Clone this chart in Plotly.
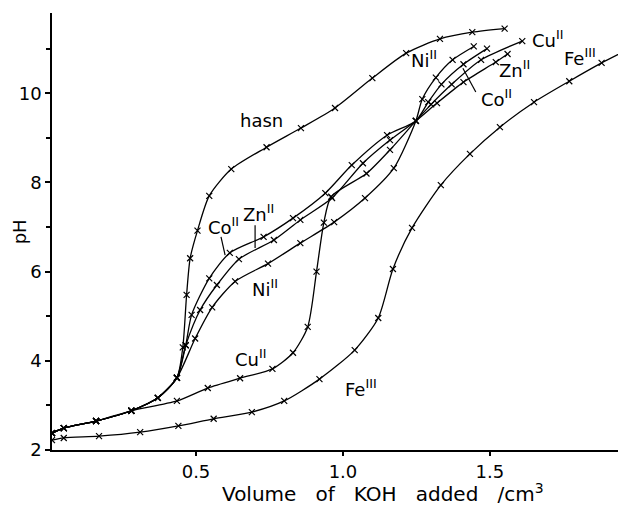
import plotly.graph_objects as go

# Shared initial part of the ligand / metal titrations
start_x = [0.01, 0.05, 0.16, 0.28, 0.37, 0.435]
start_ph = [2.38, 2.49, 2.65, 2.88, 3.17, 3.62]

hasn_x = start_x + [0.455, 0.468, 0.48, 0.505, 0.545, 0.62, 0.74, 0.857, 0.973, 1.10, 1.215, 1.33, 1.44, 1.55]
hasn_ph = start_ph + [4.3, 5.48, 6.3, 6.92, 7.7, 8.3, 8.79, 9.22, 9.67, 10.34, 10.9, 11.22, 11.37, 11.45]

co_x = start_x + [0.465, 0.485, 0.545, 0.615, 0.73, 0.83, 0.94, 1.03, 1.15, 1.248, 1.29, 1.335, 1.41, 1.49]
co_ph = start_ph + [4.35, 5.03, 5.85, 6.42, 6.78, 7.2, 7.76, 8.39, 9.06, 9.38, 9.8, 10.2, 10.65, 11.0]

zn_x = start_x + [0.465, 0.514, 0.571, 0.646, 0.765, 0.855, 0.963, 1.068, 1.16, 1.248, 1.32, 1.41, 1.52, 1.56]
zn_ph = start_ph + [4.35, 5.14, 5.70, 6.28, 6.71, 7.16, 7.65, 8.43, 8.95, 9.38, 9.78, 10.25, 10.7, 10.88]

ni_x = start_x + [0.497, 0.555, 0.633, 0.745, 0.855, 0.97, 1.075, 1.173, 1.248, 1.27, 1.316, 1.373, 1.445]
ni_ph = start_ph + [4.5, 5.2, 5.78, 6.18, 6.64, 7.11, 7.65, 8.32, 9.38, 9.87, 10.35, 10.75, 11.05]

cu_x = [0.01, 0.05, 0.16, 0.28, 0.435, 0.54, 0.65, 0.76, 0.83, 0.88, 0.91, 0.935, 0.96, 1.08, 1.16, 1.248, 1.3, 1.37, 1.47, 1.61]
cu_ph = [2.38, 2.49, 2.65, 2.88, 3.10, 3.39, 3.61, 3.82, 4.18, 4.76, 6.0, 7.1, 7.68, 8.2, 8.73, 9.38, 9.75, 10.2, 10.75, 11.17]

fe_x = [0.01, 0.05, 0.17, 0.31, 0.44, 0.56, 0.69, 0.80, 0.92, 1.04, 1.12, 1.17, 1.235, 1.333, 1.432, 1.534, 1.65, 1.77, 1.88, 1.96]
fe_ph = [2.22, 2.27, 2.31, 2.40, 2.54, 2.70, 2.85, 3.10, 3.59, 4.24, 4.96, 6.06, 6.98, 7.94, 8.64, 9.24, 9.80, 10.27, 10.68, 10.95]

series = [
    ("hasn", hasn_x, hasn_ph),
    ("Co(II)", co_x, co_ph),
    ("Zn(II)", zn_x, zn_ph),
    ("Ni(II)", ni_x, ni_ph),
    ("Cu(II)", cu_x, cu_ph),
    ("Fe(III)", fe_x, fe_ph),
]

x_ticks = [0.5, 1.0, 1.5]
x_ticklabels = ["0.5", "1.0", "1.5"]
y_ticks = [2, 4, 6, 8, 10]

# labels: (text, x, pH)
labels = [
    ("hasn", 0.724, 9.38),
    ("Co<sup>II</sup>", 0.592, 7.02),
    ("Zn<sup>II</sup>", 0.714, 7.31),
    ("Ni<sup>II</sup>", 0.735, 5.63),
    ("Cu<sup>II</sup>", 0.684, 4.06),
    ("Fe<sup>III</sup>", 1.061, 3.39),
    ("Ni<sup>II</sup>", 1.276, 10.77),
    ("Cu<sup>II</sup>", 1.697, 11.22),
    ("Zn<sup>II</sup>", 1.585, 10.54),
    ("Co<sup>II</sup>", 1.524, 9.89),
    ("Fe<sup>III</sup>", 1.806, 10.81),
]
pointers = [
    (0.599, 6.37, 0.585, 6.78),
    (0.701, 6.53, 0.701, 7.04),
    (1.408, 10.56, 1.452, 10.03),
]

fig = go.Figure()
for name, xs, ys in series:
    fig.add_trace(go.Scatter(
        x=xs, y=ys, name=name, mode="lines+markers",
        line=dict(color="black", width=1.3, shape="spline", smoothing=0.7),
        marker=dict(symbol="x-thin", size=6, line=dict(color="black", width=1.2)),
        showlegend=False,
    ))

font_family = "DejaVu Sans, sans-serif"
for text, lx, ly in labels:
    fig.add_annotation(x=lx, y=ly, text=text, showarrow=False,
                       font=dict(family=font_family, size=18, color="black"))
for x0, y0, x1, y1 in pointers:
    fig.add_shape(type="line", x0=x0, y0=y0, x1=x1, y1=y1,
                  line=dict(color="black", width=1.2))

# axis titles
fig.add_annotation(xref="paper", yref="paper", x=0.577, y=-0.098, yanchor="middle",
                   text="Volume   of   KOH   added   /cm<sup>3</sup>", showarrow=False,
                   font=dict(family=font_family, size=20, color="black"))
fig.add_annotation(xref="paper", yref="paper", x=-0.056, y=0.5, xanchor="center",
                   text="pH", textangle=-90, showarrow=False,
                   font=dict(family=font_family, size=18, color="black"))

# page body has an 8px margin: size the figure so the plot area lands where the reference has it
fig.update_layout(
    width=618, height=501,
    margin=dict(l=44, r=0, t=5, b=59),
    paper_bgcolor="white", plot_bgcolor="white",
    font=dict(family=font_family, size=18, color="black"),
    xaxis=dict(
        range=[0.01, 1.963], showgrid=False, zeroline=False, automargin=False,
        showline=True, linecolor="black", linewidth=2,
        tickmode="array", tickvals=x_ticks, ticktext=x_ticklabels,
        ticks="outside", ticklen=4, tickwidth=1.5, tickcolor="black",
        tickfont=dict(size=18),
    ),
    yaxis=dict(
        range=[2, 11.8], showgrid=False, zeroline=False, automargin=False,
        showline=True, linecolor="black", linewidth=1.5,
        tickmode="array", tickvals=y_ticks,
        ticks="outside", ticklen=5, tickwidth=1.5, tickcolor="black",
        minor=dict(dtick=1, tick0=1, ticks="outside", ticklen=4, tickwidth=1.5, tickcolor="black"),
        tickfont=dict(size=18),
    ),
)

fig.write_html("out.html")
